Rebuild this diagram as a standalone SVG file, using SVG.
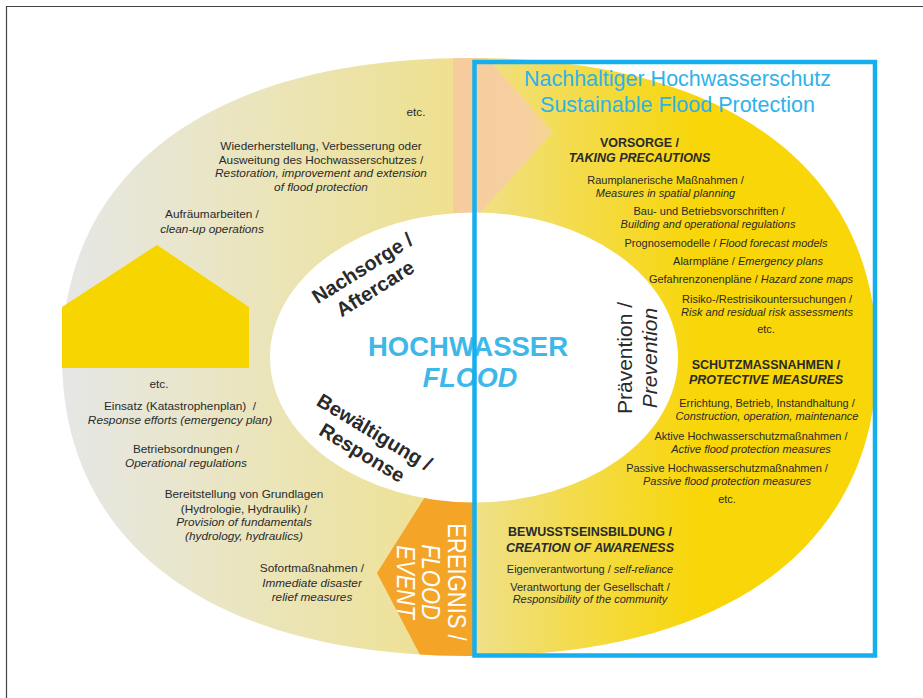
<svg xmlns="http://www.w3.org/2000/svg" width="923" height="698" viewBox="0 0 923 698">
<style>
.t{font-family:'Liberation Sans',Arial,Helvetica,sans-serif;fill:#2a2a2a;text-anchor:middle}
.l{font-size:11.8px}
.s{font-size:11px}
.i{font-style:italic}
.h{font-size:12.5px;font-weight:bold}
.big{font-size:20px;font-weight:bold}
.pv{font-size:21px}
.ev{font-size:22px;fill:#ffffff}
.blue{fill:#2DB3EA}
</style>
<defs>
<clipPath id="ring">
<path d="M470,58 C213,58 62,169 62,357 C62,545 213,656 470,656 L474,656 C728,656 877,545 877,357 C877,169 728,58 474,58 Z"/>
</clipPath>
<linearGradient id="gl" gradientUnits="userSpaceOnUse" x1="62" y1="0" x2="474" y2="0">
<stop offset="0" stop-color="#E6E7E6"/>
<stop offset="0.45" stop-color="#EAE5BE"/>
<stop offset="1" stop-color="#EFE08A"/>
</linearGradient>
<linearGradient id="gr" gradientUnits="userSpaceOnUse" x1="474" y1="0" x2="700" y2="0">
<stop offset="0" stop-color="#EFE08A"/>
<stop offset="0.4" stop-color="#F3DC52"/>
<stop offset="1" stop-color="#F8D608"/>
</linearGradient>
<linearGradient id="gp" gradientUnits="userSpaceOnUse" x1="453" y1="0" x2="553" y2="0">
<stop offset="0" stop-color="#F6CC9E"/>
<stop offset="0.7" stop-color="#F7CFA0"/>
<stop offset="1" stop-color="#F5D590"/>
</linearGradient>
</defs>
<rect width="923" height="698" fill="#ffffff"/>
<g id="frame" stroke="#444444" stroke-width="1.2">
<line x1="6" y1="6.5" x2="923" y2="6.5"/>
<line x1="6.5" y1="6" x2="6.5" y2="698"/>
</g>
<g id="cycle">
<g clip-path="url(#ring)">
<rect id="seg-left" x="0" y="0" width="474" height="698" fill="url(#gl)"/>
<rect id="seg-right" x="474" y="0" width="449" height="698" fill="url(#gr)"/>
<polygon id="seg-peach" points="453,40 471,40 553,132 464,230 453,230" fill="url(#gp)"/>
<polygon id="seg-event" points="425,497 476,497 476,670 428,670 377,573" fill="#F4A427"/>
</g>
<ellipse id="centre" cx="474" cy="357.5" rx="204" ry="145" fill="#ffffff"/>
<polygon id="house" points="62,368 62,307 157,245 249,307 249,368" fill="#F7D500"/>
</g>
<g id="nachsorge-items" class="t l">
<text x="416" y="116">etc.</text>
<text x="321" y="150">Wiederherstellung, Verbesserung oder</text>
<text x="321" y="163.5">Ausweitung des Hochwasserschutzes /</text>
<text x="321" y="177" class="i">Restoration, improvement and extension</text>
<text x="321" y="190.5" class="i">of flood protection</text>
<text x="212" y="218">Aufräumarbeiten /</text>
<text x="212" y="232.5" class="i">clean-up operations</text>
</g>
<g id="bewaeltigung-items" class="t l">
<text x="159" y="388">etc.</text>
<text x="180" y="410">Einsatz (Katastrophenplan)&#160; /</text>
<text x="180" y="424" class="i">Response efforts (emergency plan)</text>
<text x="186" y="453">Betriebsordnungen /</text>
<text x="186" y="466.5" class="i">Operational regulations</text>
<text x="244" y="498">Bereitstellung von Grundlagen</text>
<text x="244" y="512.5">(Hydrologie, Hydraulik) /</text>
<text x="244" y="526" class="i">Provision of fundamentals</text>
<text x="244" y="540" class="i">(hydrology, hydraulics)</text>
<text x="312" y="572">Sofortmaßnahmen /</text>
<text x="312" y="586.5" class="i">Immediate disaster</text>
<text x="312" y="601" class="i">relief measures</text>
</g>
<g id="nachsorge" class="t big" transform="translate(366,274) rotate(-32)">
<text x="0" y="0">Nachsorge /</text>
<text x="0" y="24">Aftercare</text>
</g>
<g id="bewaeltigung" class="t big" transform="translate(371,438) rotate(31)">
<text x="0" y="0">Bewältigung /</text>
<text x="0" y="24">Response</text>
</g>
<g id="praevention" class="t pv" transform="translate(632,358) rotate(-90)">
<text x="0" y="0">Prävention /</text>
<text x="0" y="25" class="i">Prevention</text>
</g>
<g id="hochwasser" class="t blue" font-weight="bold" font-size="27.5px">
<text x="468" y="356" fill="#3DB8E9">HOCHWASSER</text>
<text x="470" y="387" class="i" font-size="27px" fill="#3DB8E9">FLOOD</text>
</g>
<g id="vorsorge" class="t s">
<text x="639.5" y="147" class="h">VORSORGE /</text>
<text x="639.5" y="162" class="h i">TAKING PRECAUTIONS</text>
<text x="665.5" y="184">Raumplanerische Maßnahmen /</text>
<text x="665.5" y="197" class="i">Measures in spatial planning</text>
<text x="709" y="215">Bau- und Betriebsvorschriften /</text>
<text x="708" y="228" class="i">Building and operational regulations</text>
<text x="726" y="247">Prognosemodelle / <tspan class="i">Flood forecast models</tspan></text>
<text x="748" y="265">Alarmpläne / <tspan class="i">Emergency plans</tspan></text>
<text x="751" y="283">Gefahrenzonenpläne / <tspan class="i">Hazard zone maps</tspan></text>
<text x="767" y="303">Risiko-/Restrisikountersuchungen /</text>
<text x="767" y="316" class="i">Risk and residual risk assessments</text>
<text x="766" y="333">etc.</text>
</g>
<g id="schutzmassnahmen" class="t s">
<text x="766" y="369" class="h">SCHUTZMASSNAHMEN /</text>
<text x="766" y="384" class="h i">PROTECTIVE MEASURES</text>
<text x="767" y="407">Errichtung, Betrieb, Instandhaltung /</text>
<text x="767" y="420" class="i">Construction, operation, maintenance</text>
<text x="751" y="440">Aktive Hochwasserschutzmaßnahmen /</text>
<text x="751" y="453" class="i">Active flood protection measures</text>
<text x="727" y="472">Passive Hochwasserschutzmaßnahmen /</text>
<text x="727" y="485" class="i">Passive flood protection measures</text>
<text x="727" y="503">etc.</text>
</g>
<g id="bewusstseinsbildung" class="t s">
<text x="590" y="536" class="h">BEWUSSTSEINSBILDUNG /</text>
<text x="590" y="552" class="h i">CREATION OF AWARENESS</text>
<text x="590" y="573">Eigenverantwortung / <tspan class="i">self-reliance</tspan></text>
<text x="590" y="591">Verantwortung der Gesellschaft /</text>
<text x="590" y="603" class="i">Responsibility of the community</text>
</g>
<g id="ereignis" class="t ev" transform="translate(448,582) rotate(90) scale(1,1.15)">
<text x="0" y="0">EREIGNIS /</text>
<text x="0" y="22.2" class="i">FLOOD</text>
<text x="0" y="44.4" class="i">EVENT</text>
</g>
<g id="sustainable">
<rect x="474.5" y="62" width="400.5" height="593.5" fill="none" stroke="#14AFEC" stroke-width="4.5"/>
<text x="677.5" y="86" class="t blue" font-size="21.5px">Nachhaltiger Hochwasserschutz</text>
<text x="677.5" y="112" class="t blue" font-size="21.5px">Sustainable Flood Protection</text>
</g>
</svg>
